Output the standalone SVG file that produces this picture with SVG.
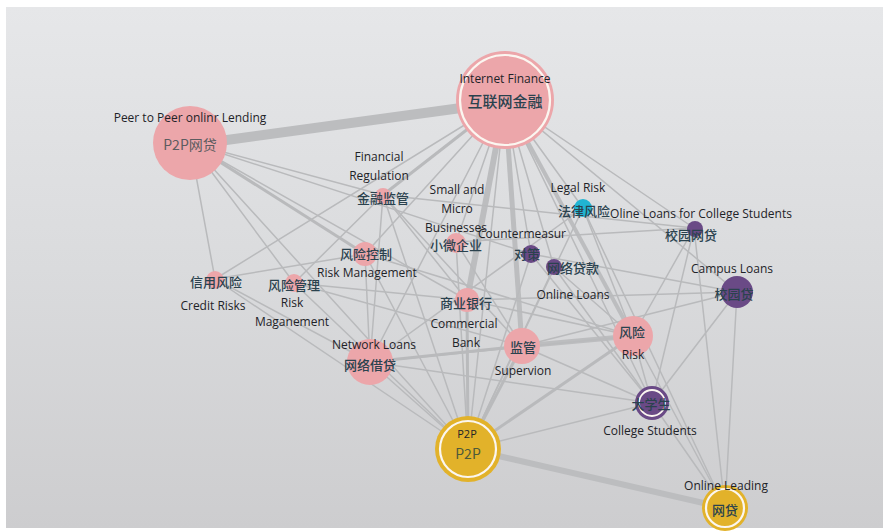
<svg xmlns="http://www.w3.org/2000/svg" width="886" height="531" viewBox="0 0 886 531">
<defs>
<linearGradient id="bg" x1="0" y1="0" x2="0" y2="1">
<stop offset="0" stop-color="#e6e7e9"/>
<stop offset="0.5" stop-color="#dadbdd"/>
<stop offset="1" stop-color="#cdcdcf"/>
</linearGradient>
<style>
.e{stroke:#b9babc;stroke-width:1.5;fill:none;stroke-linecap:round}
.m{stroke:#b9babc;stroke-width:3;fill:none}
.t{stroke:#bcbdbf;stroke-width:5;fill:none}
.pk{fill:#eca6aa}
.pu{fill:#6a4a86}
.cy{fill:#21b4d2}
.gd{fill:#e2b22a}
.ring{fill:none;stroke:#fbf6f0;stroke-width:2.2}
.en{font-family:"Open Sans","Liberation Sans",sans-serif;font-size:12px;fill:#1e2328;text-anchor:middle}
.cn{font-family:"Noto Sans CJK SC","Noto Sans",sans-serif;font-size:13px;font-weight:500;fill:#2a424e;text-anchor:middle}
</style>
</defs>
<rect x="0" y="0" width="886" height="531" fill="#ffffff"/>
<rect x="6" y="7" width="877" height="521" fill="url(#bg)"/>
<g id="edges">
<line class="t" x1="190" y1="145" x2="505" y2="102" style="stroke-width:10"/>
<line class="t" x1="505" y1="100" x2="467" y2="300" style="stroke-width:6"/>
<line class="t" x1="505" y1="100" x2="522" y2="346" style="stroke-width:5"/>
<line class="t" x1="505" y1="100" x2="633" y2="336" style="stroke-width:4"/>
<line class="t" x1="468" y1="449" x2="725" y2="508" style="stroke-width:6"/>
<line class="t" x1="522" y1="346" x2="633" y2="336" style="stroke-width:5"/>
<line class="m" x1="468" y1="449" x2="633" y2="336"/>
<line class="m" x1="370" y1="362" x2="522" y2="346"/>
<line class="m" x1="190" y1="143" x2="365" y2="254"/>
<line class="m" x1="505" y1="100" x2="383" y2="195"/>
<line class="m" x1="468" y1="449" x2="522" y2="346"/>
<line class="m" x1="467" y1="300" x2="468" y2="449"/>
<line class="e" x1="190" y1="143" x2="215" y2="279"/>
<line class="e" x1="190" y1="143" x2="294" y2="283"/>
<line class="e" x1="190" y1="143" x2="383" y2="195"/>
<line class="e" x1="190" y1="143" x2="531" y2="254"/>
<line class="e" x1="190" y1="143" x2="467" y2="300"/>
<line class="e" x1="190" y1="143" x2="468" y2="449"/>
<line class="e" x1="505" y1="100" x2="215" y2="279"/>
<line class="e" x1="505" y1="100" x2="365" y2="254"/>
<line class="e" x1="505" y1="100" x2="456" y2="242"/>
<line class="e" x1="505" y1="100" x2="370" y2="362"/>
<line class="e" x1="505" y1="100" x2="468" y2="449"/>
<line class="e" x1="505" y1="100" x2="531" y2="254"/>
<line class="e" x1="505" y1="100" x2="554" y2="267"/>
<line class="e" x1="505" y1="100" x2="583" y2="208"/>
<line class="e" x1="505" y1="100" x2="694" y2="228"/>
<line class="e" x1="505" y1="100" x2="737" y2="292"/>
<line class="e" x1="505" y1="100" x2="652" y2="403"/>
<line class="e" x1="383" y1="195" x2="370" y2="362"/>
<line class="e" x1="383" y1="195" x2="522" y2="346"/>
<line class="e" x1="383" y1="195" x2="467" y2="300"/>
<line class="e" x1="383" y1="195" x2="294" y2="283"/>
<line class="e" x1="383" y1="195" x2="694" y2="228"/>
<line class="e" x1="383" y1="195" x2="468" y2="449"/>
<line class="e" x1="365" y1="254" x2="633" y2="336"/>
<line class="e" x1="365" y1="254" x2="370" y2="362"/>
<line class="e" x1="365" y1="254" x2="468" y2="449"/>
<line class="e" x1="365" y1="254" x2="215" y2="279"/>
<line class="e" x1="294" y1="283" x2="522" y2="346"/>
<line class="e" x1="294" y1="283" x2="467" y2="300"/>
<line class="e" x1="294" y1="283" x2="468" y2="449"/>
<line class="e" x1="215" y1="279" x2="370" y2="362"/>
<line class="e" x1="215" y1="279" x2="468" y2="449"/>
<line class="e" x1="370" y1="362" x2="468" y2="449"/>
<line class="e" x1="370" y1="362" x2="633" y2="336"/>
<line class="e" x1="370" y1="362" x2="583" y2="208"/>
<line class="e" x1="467" y1="300" x2="633" y2="336"/>
<line class="e" x1="467" y1="300" x2="737" y2="292"/>
<line class="e" x1="456" y1="242" x2="468" y2="449"/>
<line class="e" x1="456" y1="242" x2="522" y2="346"/>
<line class="e" x1="456" y1="242" x2="694" y2="228"/>
<line class="e" x1="531" y1="254" x2="468" y2="449"/>
<line class="e" x1="531" y1="254" x2="652" y2="403"/>
<line class="e" x1="531" y1="254" x2="737" y2="292"/>
<line class="e" x1="554" y1="267" x2="633" y2="336"/>
<line class="e" x1="554" y1="267" x2="652" y2="403"/>
<line class="e" x1="554" y1="267" x2="468" y2="449"/>
<line class="e" x1="583" y1="208" x2="468" y2="449"/>
<line class="e" x1="583" y1="208" x2="633" y2="336"/>
<line class="e" x1="583" y1="208" x2="725" y2="508"/>
<line class="e" x1="694" y1="228" x2="652" y2="403"/>
<line class="e" x1="694" y1="228" x2="633" y2="336"/>
<line class="e" x1="694" y1="228" x2="725" y2="508"/>
<line class="e" x1="737" y1="292" x2="652" y2="403"/>
<line class="e" x1="737" y1="292" x2="725" y2="508"/>
<line class="e" x1="737" y1="292" x2="522" y2="346"/>
<line class="e" x1="652" y1="403" x2="725" y2="508"/>
<line class="e" x1="652" y1="403" x2="468" y2="449"/>
<line class="e" x1="652" y1="403" x2="522" y2="346"/>
<line class="e" x1="633" y1="336" x2="725" y2="508"/>
<line class="e" x1="633" y1="336" x2="652" y2="403"/>
<line class="e" x1="370" y1="362" x2="652" y2="403"/>
</g>
<g id="n-internet-finance">
<circle class="pk" cx="505" cy="100" r="49"/>
<circle class="ring" cx="505" cy="100" r="45"/>
<text class="en" x="505" y="83">Internet Finance</text>
<text class="cn" x="505" y="107" style="font-size:15px">互联网金融</text>
</g>
<g id="n-p2p-lending">
<circle class="pk" cx="190" cy="143" r="37"/>
<text class="en" x="190" y="122">Peer  to Peer onlinr Lending</text>
<text class="cn" x="190" y="150" style="font-size:14px;fill:#5c5c60;font-weight:normal">P2P网贷</text>
</g>
<g id="n-financial-regulation">
<circle class="pk" cx="383" cy="196" r="8"/>
<text class="en" x="379" y="161">Financial</text>
<text class="en" x="379" y="180">Regulation</text>
<text class="cn" x="383" y="203">金融监管</text>
</g>
<g id="n-small-micro">
<circle class="pk" cx="456" cy="243" r="10"/>
<text class="en" x="457" y="194">Small and</text>
<text class="en" x="457" y="213">Micro</text>
<text class="en" x="456" y="232">Businesses</text>
<text class="cn" x="456" y="250">小微企业</text>
</g>
<g id="n-countermeasure">
<circle class="pu" cx="531" cy="254" r="9"/>
<text class="en" x="522" y="238">Countermeasur</text>
<text class="cn" x="527" y="259">对策</text>
</g>
<g id="n-legal-risk">
<circle class="cy" cx="583" cy="208" r="9"/>
<text class="en" x="578" y="192">Legal  Risk</text>
<text class="cn" x="584" y="216">法律风险</text>
</g>
<g id="n-online-loans-college">
<circle class="pu" cx="695" cy="229" r="8"/>
<text class="en" x="701" y="218">Oline Loans  for College Students</text>
<text class="cn" x="691" y="240">校园网贷</text>
</g>
<g id="n-online-loans">
<circle class="pu" cx="554" cy="267" r="8"/>
<text class="cn" x="573" y="273">网络贷款</text>
<text class="en" x="573" y="299">Online Loans</text>
</g>
<g id="n-campus-loans">
<circle class="pu" cx="737" cy="292" r="16"/>
<text class="en" x="732" y="273">Campus  Loans</text>
<text class="cn" x="734" y="299">校园贷</text>
</g>
<g id="n-risk-control">
<circle class="pk" cx="365" cy="254" r="12"/>
<text class="cn" x="366" y="259">风险控制</text>
<text class="en" x="367" y="277">Risk Management</text>
</g>
<g id="n-credit-risks">
<circle class="pk" cx="215" cy="280" r="9"/>
<text class="cn" x="216" y="287">信用风险</text>
<text class="en" x="213" y="310">Credit Risks</text>
</g>
<g id="n-risk-manage">
<circle class="pk" cx="294" cy="283" r="9"/>
<text class="cn" x="294" y="290">风险管理</text>
<text class="en" x="292" y="307">Risk</text>
<text class="en" x="292" y="326">Maganement</text>
</g>
<g id="n-commercial-bank">
<circle class="pk" cx="467" cy="300" r="12"/>
<text class="cn" x="466" y="308">商业银行</text>
<text class="en" x="464" y="328">Commercial</text>
<text class="en" x="466" y="347">Bank</text>
</g>
<g id="n-network-loans">
<circle class="pk" cx="370" cy="362" r="23"/>
<text class="en" x="374" y="349">Network  Loans</text>
<text class="cn" x="370" y="370">网络借贷</text>
</g>
<g id="n-supervision">
<circle class="pk" cx="522" cy="346" r="18"/>
<text class="cn" x="523" y="352">监管</text>
<text class="en" x="523" y="375">Supervion</text>
</g>
<g id="n-risk">
<circle class="pk" cx="633" cy="336" r="20"/>
<text class="cn" x="632" y="337">风险</text>
<text class="en" x="633" y="359">Risk</text>
</g>
<g id="n-college-students">
<circle class="pu" cx="652" cy="403" r="17"/>
<circle class="ring" cx="652" cy="403" r="13" style="stroke-width:1.8"/>
<text class="cn" x="651" y="409">大学生</text>
<text class="en" x="650" y="435">College Students</text>
</g>
<g id="n-p2p">
<circle class="gd" cx="468" cy="449" r="33"/>
<circle class="ring" cx="468" cy="449" r="28"/>
<text class="en" x="467" y="438" style="font-size:11px">P2P</text>
<text class="cn" x="468" y="459" style="font-size:14px;fill:#4e5a3a;font-weight:normal">P2P</text>
</g>
<g id="n-online-leading">
<circle class="gd" cx="725" cy="508" r="23"/>
<circle class="ring" cx="725" cy="508" r="19"/>
<text class="en" x="726" y="490">Online Leading</text>
<text class="cn" x="725" y="515">网贷</text>
</g>
</svg>
